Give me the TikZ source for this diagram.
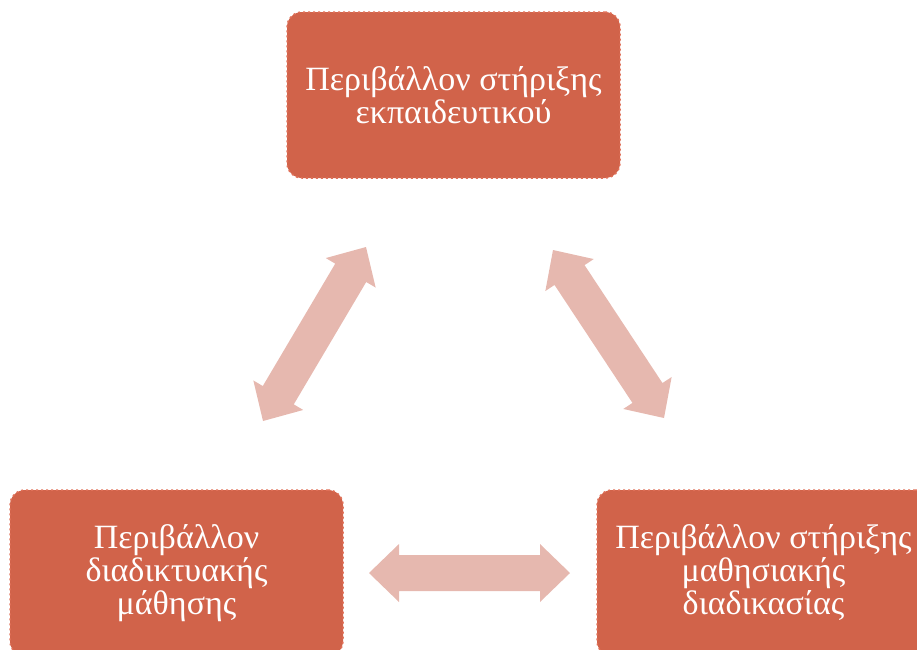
\documentclass[tikz,border=0pt]{standalone}
\usepackage{fontspec}
\setmainfont{Liberation Serif}
\usetikzlibrary{calc}
\definecolor{boxfill}{RGB}{209,99,74}
\definecolor{boxline}{RGB}{224,112,88}
\definecolor{arrfill}{RGB}{230,184,175}
\tikzset{
  envbox/.style={rectangle, rounded corners=15pt, fill=boxfill, draw=boxline,
    line width=1.5pt, dash pattern=on 2pt off 3pt, minimum width=333pt,
    minimum height=166pt, text=white, align=center, inner sep=0pt,
    font=\fontsize{34}{33}\selectfont},
  arrshape/.style={fill=arrfill, draw=none}
}
\newcommand\dblarr[2]{%
  \path[arrshape] let \p1=($(#2)-(#1)$), \n1={veclen(\x1,\y1)}, \n2={atan2(\y1,\x1)} in
    [shift={(#1)}, rotate=\n2]
    (0,0) -- (30,29) -- (30,18) -- ({\n1-30},18) -- ({\n1-30},29) -- (\n1,0)
    -- ({\n1-30},-29) -- ({\n1-30},-18) -- (30,-18) -- (30,-29) -- cycle;}
\begin{document}
\begin{tikzpicture}[x=1pt,y=1pt]
\clip (0,0) rectangle (917,-649);
\node[envbox] (top) at (453.5,-95) {Περιβάλλον στήριξης\\εκπαιδευτικού};
\node[envbox] (left) at (176.5,-573) {Περιβάλλον\\διαδικτυακής\\μάθησης};
\node[envbox] (right) at (763.5,-573) {Περιβάλλον στήριξης\\μαθησιακής\\διαδικασίας};
\coordinate (la) at (263,-421);
\coordinate (lb) at (366,-247);
\coordinate (ra) at (553,-250);
\coordinate (rb) at (664,-418);
\coordinate (ha) at (369,-573);
\coordinate (hb) at (570,-573);
\dblarr{la}{lb}
\dblarr{ra}{rb}
\dblarr{ha}{hb}
\end{tikzpicture}
\end{document}
